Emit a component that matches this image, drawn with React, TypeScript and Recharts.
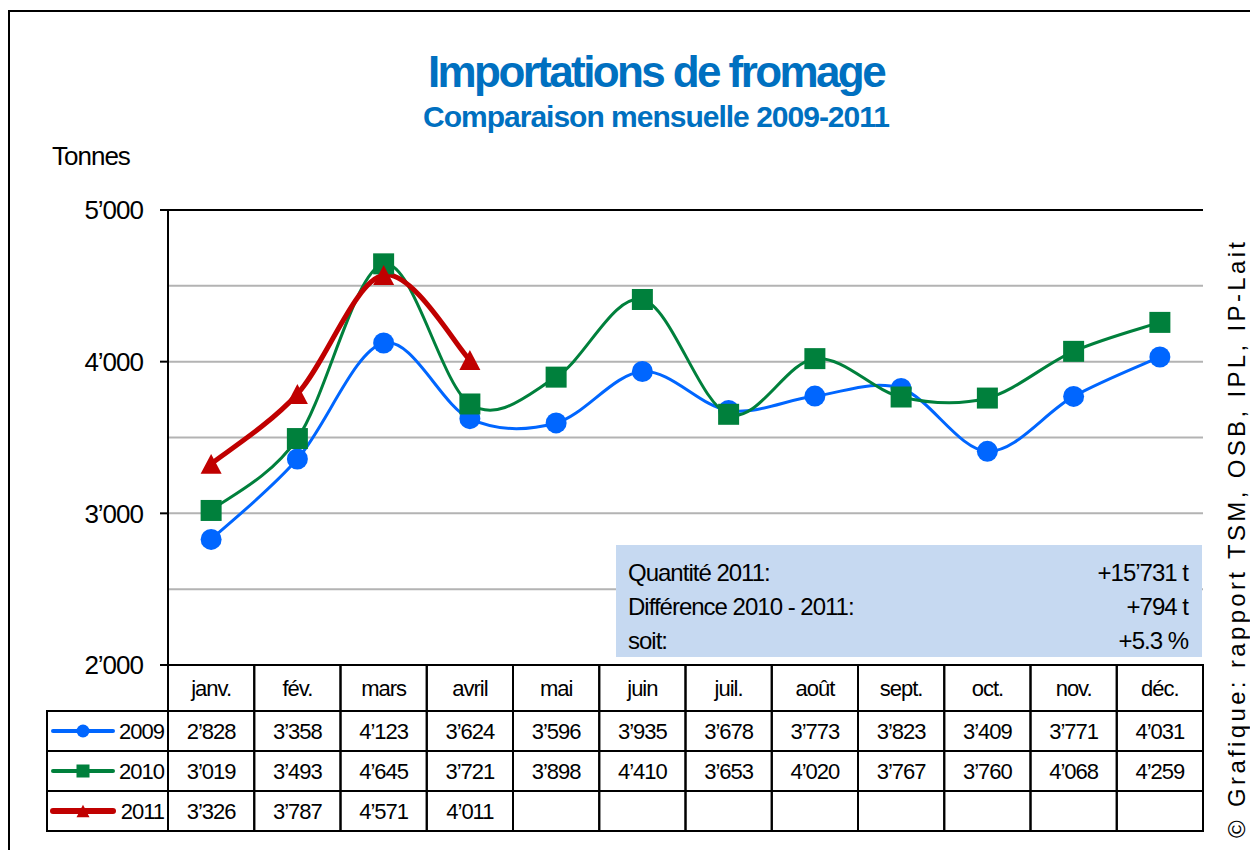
import React from "react";
import { LineChart, Line, XAxis, YAxis, ReferenceLine } from "recharts";

const months = ["janv.", "fév.", "mars", "avril", "mai", "juin", "juil.", "août", "sept.", "oct.", "nov.", "déc."];
const imports2009 = [2828, 3358, 4123, 3624, 3596, 3935, 3678, 3773, 3823, 3409, 3771, 4031];
const imports2010 = [3019, 3493, 4645, 3721, 3898, 4410, 3653, 4020, 3767, 3760, 4068, 4259];
const imports2011 = [3326, 3787, 4571, 4011];
const yTicks = [2000, 3000, 4000, 5000];
const gridValues = [2500, 3000, 3500, 4000, 4500];
const summaryLabels = ["Quantité 2011:", "Différence 2010 - 2011:", "soit:"];
const summaryValues = ["+15’731 t", "+794 t", "+5.3 %"];

const FONT = "'Liberation Sans', Arial, sans-serif";
const COL_W = 86.25;
const HEADER_H = 46;
const ROW_H = 40;
const LEGEND_W = 121;

const series = [
  { key: "y2009", name: "2009", values: imports2009, color: "#0066FF", width: 3, shape: "circle" },
  { key: "y2010", name: "2010", values: imports2010, color: "#00803C", width: 3, shape: "square" },
  { key: "y2011", name: "2011", values: imports2011, color: "#C00000", width: 5, shape: "triangle" },
];

const data = months.map((month, i) => ({
  month,
  y2009: imports2009[i],
  y2010: imports2010[i],
  y2011: imports2011[i] ?? null,
}));

const fmt = (v: number) => String(v).replace(/\B(?=(\d{3})+(?!\d))/g, "’");

// smoothed line like the spreadsheet one (cardinal / catmull-rom bezier)
const smoothCurve: any = (context: any) => {
  let xs: number[] = [];
  let ys: number[] = [];
  return {
    areaStart() {},
    areaEnd() {},
    lineStart() {
      xs = [];
      ys = [];
    },
    point(x: number, y: number) {
      xs.push(+x);
      ys.push(+y);
    },
    lineEnd() {
      const n = xs.length;
      if (!n) return;
      context.moveTo(xs[0], ys[0]);
      for (let i = 0; i < n - 1; i++) {
        const a = Math.max(i - 1, 0);
        const d = Math.min(i + 2, n - 1);
        const k = 6;
        context.bezierCurveTo(
          xs[i] + (xs[i + 1] - xs[a]) / k,
          ys[i] + (ys[i + 1] - ys[a]) / k,
          xs[i + 1] - (xs[d] - xs[i]) / k,
          ys[i + 1] - (ys[d] - ys[i]) / k,
          xs[i + 1],
          ys[i + 1]
        );
      }
    },
  };
};

function Marker({ shape, cx, cy, size, color }: any) {
  if (shape === "circle") return <circle cx={cx} cy={cy} r={size / 2} fill={color} />;
  if (shape === "square")
    return <rect x={cx - size / 2} y={cy - size / 2} width={size} height={size} fill={color} />;
  const h = size * 0.95;
  return (
    <polygon
      points={`${cx},${cy - h / 2} ${cx + size / 2},${cy + h / 2} ${cx - size / 2},${cy + h / 2}`}
      fill={color}
    />
  );
}

const cellText = { fontFamily: FONT, fontSize: 22, letterSpacing: -1, fill: "#000" };

function TableColumn(props: any) {
  const { x, y, payload } = props;
  const i = payload.index;
  const left = x - COL_W / 2;
  const bottom = y + HEADER_H + series.length * ROW_H;
  return (
    <g>
      <rect x={left} y={y} width={COL_W} height={bottom - y} fill="none" stroke="#000" strokeWidth={2} />
      {series.map((s, k) => (
        <line key={s.key} x1={left} x2={left + COL_W} y1={y + HEADER_H + k * ROW_H} y2={y + HEADER_H + k * ROW_H} stroke="#000" strokeWidth={2} />
      ))}
      <text x={x} y={y + 31} textAnchor="middle" {...cellText}>{payload.value}</text>
      {series.map((s, k) =>
        s.values[i] != null ? (
          <text key={s.key} x={x} y={y + HEADER_H + k * ROW_H + 28} textAnchor="middle" {...cellText}>
            {fmt(s.values[i])}
          </text>
        ) : null
      )}
      {i === 0 && (
        <g>
          <rect x={left - LEGEND_W} y={y + HEADER_H} width={LEGEND_W} height={series.length * ROW_H} fill="none" stroke="#000" strokeWidth={2} />
          {series.map((s, k) => {
            const cy = y + HEADER_H + k * ROW_H + ROW_H / 2;
            const lx = left - LEGEND_W + 6;
            return (
              <g key={s.key}>
                <line x1={left - LEGEND_W} x2={left} y1={cy - ROW_H / 2} y2={cy - ROW_H / 2} stroke="#000" strokeWidth={2} />
                <line x1={lx} x2={lx + 60} y1={cy} y2={cy} stroke={s.color} strokeWidth={s.width + 1} strokeLinecap="round" />
                <Marker shape={s.shape} cx={lx + 30} cy={cy} size={13} color={s.color} />
                <text x={left - 4} y={cy + 8} textAnchor="end" {...cellText}>{s.name}</text>
              </g>
            );
          })}
        </g>
      )}
    </g>
  );
}

export default function App() {
  return (
    <div style={{ position: "absolute", left: 0, top: 0, width: 1250, height: 850, overflow: "hidden", background: "#fff" }}>
      <div style={{ position: "absolute", left: 8, top: 10, width: 1400, height: 1000, border: "2px solid #000" }} />
      <div style={{ position: "absolute", left: 0, top: 0 }}>
        <LineChart width={1250} height={850} data={data} margin={{ top: 210, right: 47, bottom: 15, left: 108 }}>
          {gridValues.map((v) => (
            <ReferenceLine key={v} y={v} stroke="#B3B3B3" strokeWidth={2} />
          ))}
          <ReferenceLine y={5000} stroke="#000" strokeWidth={2} />
          <XAxis
            dataKey="month"
            scale="point"
            padding={{ left: COL_W / 2, right: COL_W / 2 }}
            height={170}
            axisLine={false}
            tickLine={false}
            tickSize={0}
            tickMargin={0}
            interval={0}
            tick={(p: any) => <TableColumn {...p} />}
          />
          <YAxis
            width={60}
            domain={[2000, 5000]}
            ticks={yTicks}
            tickFormatter={fmt}
            axisLine={{ stroke: "#000", strokeWidth: 2 }}
            tickLine={{ stroke: "#000", strokeWidth: 2 }}
            tickSize={8}
            tickMargin={17}
            tick={{ fontFamily: FONT, fontSize: 26, letterSpacing: -1, fill: "#000" }}
          />
          <YAxis
            yAxisId="r"
            orientation="right"
            width={0}
            domain={[2000, 5000]}
            tick={false}
            tickLine={false}
            axisLine={{ stroke: "#000", strokeWidth: 2 }}
          />
          {series.map((s) => (
            <Line
              key={s.key}
              dataKey={s.key}
              type={smoothCurve}
              stroke={s.color}
              strokeWidth={s.width}
              isAnimationActive={false}
              activeDot={false}
              dot={(p: any) => <Marker key={`${s.key}-${p.index}`} shape={s.shape} cx={p.cx} cy={p.cy} size={21} color={s.color} />}
            />
          ))}
        </LineChart>
      </div>
      <svg width={1250} height={850} style={{ position: "absolute", left: 0, top: 0, pointerEvents: "none" }}>
        <text x={656} y={87} textAnchor="middle" fontFamily={FONT} fontWeight="bold" fontSize={44} letterSpacing={-2.6} fill="#0070C0">
          Importations de fromage
        </text>
        <text x={656} y={127} textAnchor="middle" fontFamily={FONT} fontWeight="bold" fontSize={30} letterSpacing={-1} fill="#0070C0">
          Comparaison mensuelle 2009-2011
        </text>
        <text x={52} y={165} fontFamily={FONT} fontSize={26} letterSpacing={-1} fill="#000">Tonnes</text>
        <rect x={616} y={545} width={586} height={112} fill="#C6D9F1" />
        {summaryLabels.map((t, k) => (
          <text key={t} x={628} y={581 + k * 34} fontFamily={FONT} fontSize={24} letterSpacing={-1} fill="#000">{t}</text>
        ))}
        {summaryValues.map((t, k) => (
          <text key={t} x={1188} y={581 + k * 34} textAnchor="end" fontFamily={FONT} fontSize={24} letterSpacing={-1} fill="#000">{t}</text>
        ))}
        <text transform="translate(1245,838) rotate(-90)" fontFamily={FONT} fontSize={24} textLength={596} fill="#000">
          © Grafique: rapport TSM, OSB, IPL, IP-Lait
        </text>
      </svg>
    </div>
  );
}
